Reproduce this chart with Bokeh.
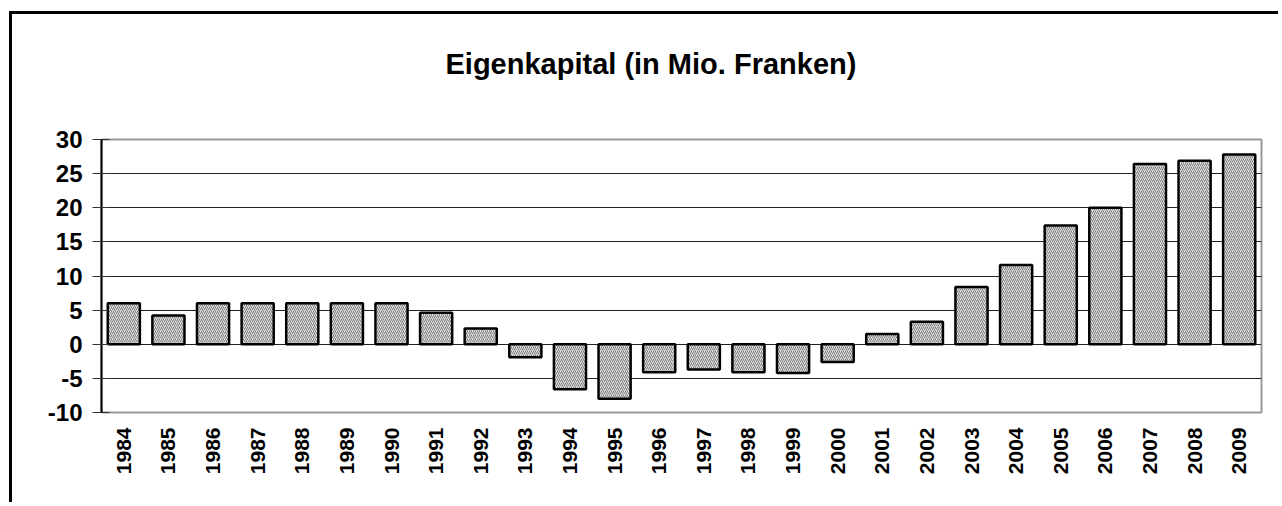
from bokeh.plotting import figure
from bokeh.models import FactorRange, FixedTicker, Range1d, Title
from bokeh.embed import file_html
from bokeh.resources import INLINE
import math

years = [str(y) for y in range(1984, 2010)]
values = [6.0, 4.2, 6.0, 6.0, 6.0, 6.0, 6.0, 4.6, 2.3, -1.9, -6.6, -8.0, -4.1,
          -3.7, -4.1, -4.2, -2.6, 1.5, 3.3, 8.4, 11.6, 17.4, 20.0, 26.4, 26.9, 27.8]
y_ticks = [-10, -5, 0, 5, 10, 15, 20, 25, 30]
y_tick_labels = {t: str(t) for t in y_ticks}
title_text = "Eigenkapital (in Mio. Franken)"

FONT = "Liberation Sans"

p = figure(width=1269, height=491, x_range=FactorRange(*years, range_padding=0),
           y_range=Range1d(-10, 30), output_backend="svg", toolbar_location=None,
           min_border_left=89, min_border_right=20, min_border_top=125, min_border_bottom=93)
try:
    p.title = None
except Exception:
    p.title.visible = False

p.styles = {"border-top": "3px solid black", "border-left": "3px solid black"}
p.margin = (11, 0, 0, 9)

p.vbar(x=years, top=values, bottom=0, width=0.72, fill_color="#e2e2e2",
       hatch_pattern="/", hatch_scale=4, hatch_color="#7a7a7a", hatch_weight=1,
       line_color="black", line_width=2.5)

# invisible spacer (white text) nearest to the frame, then the visible title
spacer = Title(text=".", text_font_size="1px", text_color="white", standoff=57)
main_title = Title(text=title_text, text_font=FONT, text_font_size="29px",
                   text_font_style="bold", text_color="black", align="left",
                   offset=344, standoff=0)
p.add_layout(spacer, "above")
p.add_layout(main_title, "above")

p.outline_line_color = "#999999"
p.outline_line_width = 2

p.xgrid.grid_line_color = None
p.ygrid.grid_line_color = "#222222"
p.ygrid.grid_line_width = 1
p.ygrid.ticker = FixedTicker(ticks=y_ticks)

p.yaxis.ticker = FixedTicker(ticks=y_ticks)
p.yaxis.major_label_overrides = y_tick_labels
p.yaxis.axis_line_color = "black"
p.yaxis.axis_line_width = 2
p.yaxis.major_tick_in = 8
p.yaxis.major_tick_out = 9
p.yaxis.major_tick_line_color = "#333333"
p.yaxis.minor_tick_line_color = None
p.yaxis.major_label_text_font = FONT
p.yaxis.major_label_text_font_size = "24px"
p.yaxis.major_label_text_font_style = "bold"
p.yaxis.major_label_text_color = "black"
p.yaxis.major_label_standoff = 10

p.xaxis.axis_line_color = None
p.xaxis.major_tick_line_color = None
p.xaxis.minor_tick_line_color = None
p.xaxis.major_label_orientation = math.pi / 2
p.xaxis.major_label_text_font = FONT
p.xaxis.major_label_text_font_size = "21px"
p.xaxis.major_label_text_font_style = "bold"
p.xaxis.major_label_text_color = "black"
p.xaxis.major_label_standoff = 9

open("out.html", "w").write(file_html(p, INLINE))
